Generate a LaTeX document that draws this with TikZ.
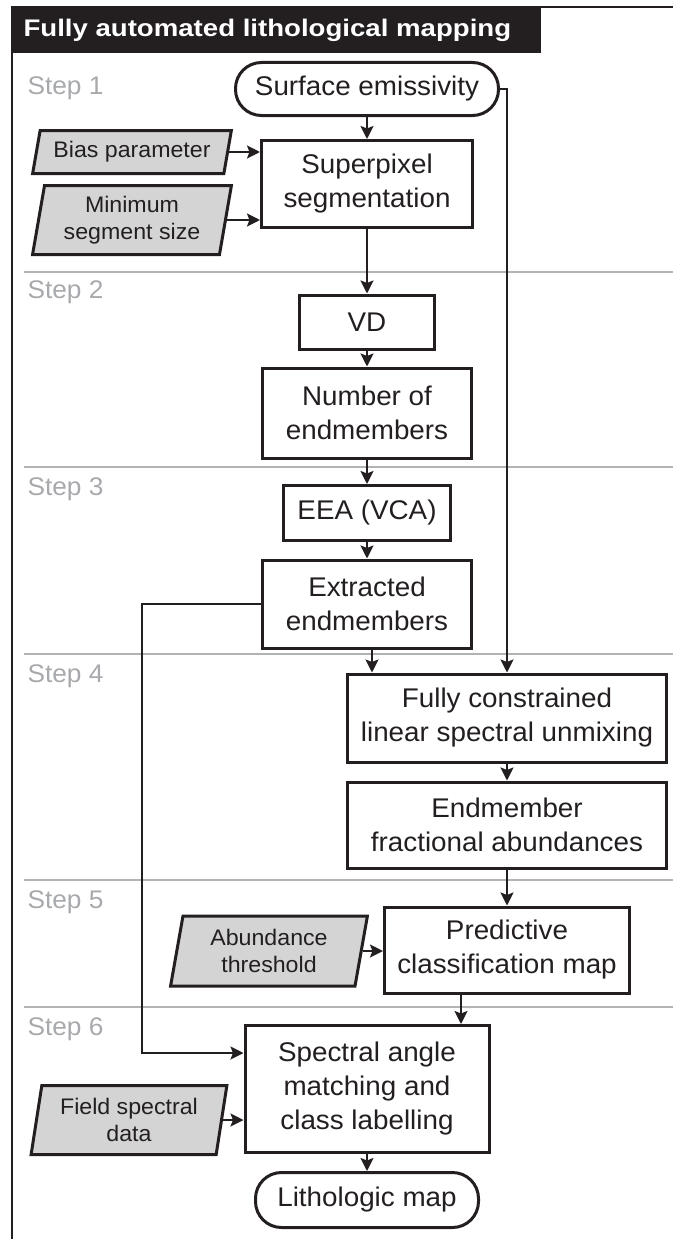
\documentclass[tikz,border=0pt]{standalone}
\usepackage{fontspec}
\setmainfont{Liberation Sans}[FakeStretch=1.03]
\newfontfamily\titlefont{Liberation Sans}[FakeStretch=1.15]
\usepackage{tikz}
\usetikzlibrary{arrows.meta,shapes.geometric}
\tikzset{>={Stealth[width=13pt,length=13pt,inset=2.5pt]}}

\definecolor{inkdark}{HTML}{231F20}
\definecolor{stepgray}{HTML}{A7A9AC}
\definecolor{rulegray}{HTML}{B3B3B3}
\definecolor{inputgray}{HTML}{D4D4D4}

\tikzset{
  procbox/.style={draw=inkdark, text=inkdark, line width=3pt, fill=white,
    align=center, inner sep=0pt, font=\fontsize{27}{34}\selectfont},
  termbox/.style={procbox, rounded corners=26pt},
  inbox/.style={trapezium, trapezium left angle=79, trapezium right angle=101,
    trapezium stretches, draw=inkdark, text=inkdark, line width=3pt,
    fill=inputgray, align=center, inner sep=0pt,
    font=\fontsize{22.5}{27}\selectfont},
  steplabel/.style={anchor=base west, text=stepgray,
    font=\fontsize{25.5}{25}\selectfont},
  flow/.style={->, line width=2.3pt, draw=inkdark},
}

\begin{document}
\begin{tikzpicture}[x=1pt, y=-1pt]

  \newcommand\ColA{367}
  \newcommand\ColB{507}

  \useasboundingbox (0,0) rectangle (673,1239);

  % frame and title bar
  \fill[inkdark] (12,7) rectangle (541,53);
  \draw[inkdark, line width=2.2pt] (12,1239) -- (12,7) -- (673,7);
  \node[anchor=base west, text=white,
    font=\fontsize{24}{24}\titlefont\bfseries] (title) at (20,37)
    {Fully automated lithological mapping};

  % step rules and labels
  \foreach \y in {272,467,654,880,1007}
    \draw[rulegray, line width=1.5pt] (24,\y) -- (673,\y);
  \foreach \n/\y in {1/94,2/298,3/495,4/682,5/908,6/1035}
    \node[steplabel] (step\n) at (24,\y) {Step \n};

  % step 1
  \node[termbox, minimum width=263pt, minimum height=53pt] (emis)
    at (\ColA,89) {Surface emissivity};
  \node[procbox, minimum width=211pt, minimum height=87pt] (seg)
    at (\ColA,184) {Superpixel\\segmentation};
  \node[inbox, trapezium left angle=73, trapezium right angle=107,
    minimum width=199pt, minimum height=43pt] (bias)
    at (132,152) {Bias parameter};
  \node[inbox, minimum width=199pt, minimum height=69pt] (minseg)
    at (132,220) {Minimum\\segment size};

  % step 2
  \node[procbox, minimum width=135pt, minimum height=54pt] (vd)
    at (\ColA,322) {VD};
  \node[procbox, minimum width=209pt, minimum height=90pt] (nend)
    at (\ColA,413) {Number of\\endmembers};

  % step 3
  \node[procbox, minimum width=167pt, minimum height=55pt] (eea)
    at (\ColA,513) {EEA (VCA)};
  \node[procbox, minimum width=209pt, minimum height=88pt] (extr)
    at (\ColA,604) {Extracted\\endmembers};

  % step 4
  \node[procbox, minimum width=319pt, minimum height=88pt] (fcls)
    at (\ColB,718) {Fully constrained\\linear spectral unmixing};
  \node[procbox, minimum width=319pt, minimum height=86pt] (abund)
    at (\ColB,825) {Endmember\\fractional abundances};

  % step 5
  \node[procbox, minimum width=245pt, minimum height=86pt] (pcm)
    at (\ColB,950) {Predictive\\classification map};
  \node[inbox, minimum width=197pt, minimum height=70pt] (thresh)
    at (269,951) {Abundance\\threshold};

  % step 6
  \node[procbox, minimum width=244pt, minimum height=127pt] (sam)
    at (\ColA,1089) {Spectral angle\\matching and\\class labelling};
  \node[inbox, minimum width=196pt, minimum height=69pt] (field)
    at (129,1120) {Field spectral\\data};
  \node[termbox, minimum width=223pt, minimum height=55pt] (litho)
    at (\ColA,1200) {Lithologic map};

  % connectors
  \draw[flow] (emis.south) -- (seg.north);
  \draw[flow] (emis.east) -| (fcls.north);
  \draw[flow] (bias.east) -- (bias.east -| seg.west);
  \draw[flow] (minseg.east) -- (minseg.east -| seg.west);
  \draw[flow] (seg.south) -- (vd.north);
  \draw[flow] (vd.south) -- (nend.north);
  \draw[flow] (nend.south) -- (eea.north);
  \draw[flow] (eea.south) -- (extr.north);
  \draw[flow] ([xshift=5pt]extr.south) -- ([xshift=5pt]extr.south |- fcls.north);
  \draw[flow] (fcls.south) -- (abund.north);
  \draw[flow] (abund.south) -- (pcm.north);
  \draw[flow] (thresh.east) -- (thresh.east -| pcm.west);
  \draw[flow] ([xshift=-46pt]pcm.south) -- ([xshift=-46pt]pcm.south |- sam.north);
  \coordinate (sambend) at (142,1053);
  \draw[flow] (extr.west) -| (sambend) -- (sambend -| sam.west);
  \draw[flow] (field.east) -- (field.east -| sam.west);
  \draw[flow] (sam.south) -- (litho.north);

\end{tikzpicture}
\end{document}
